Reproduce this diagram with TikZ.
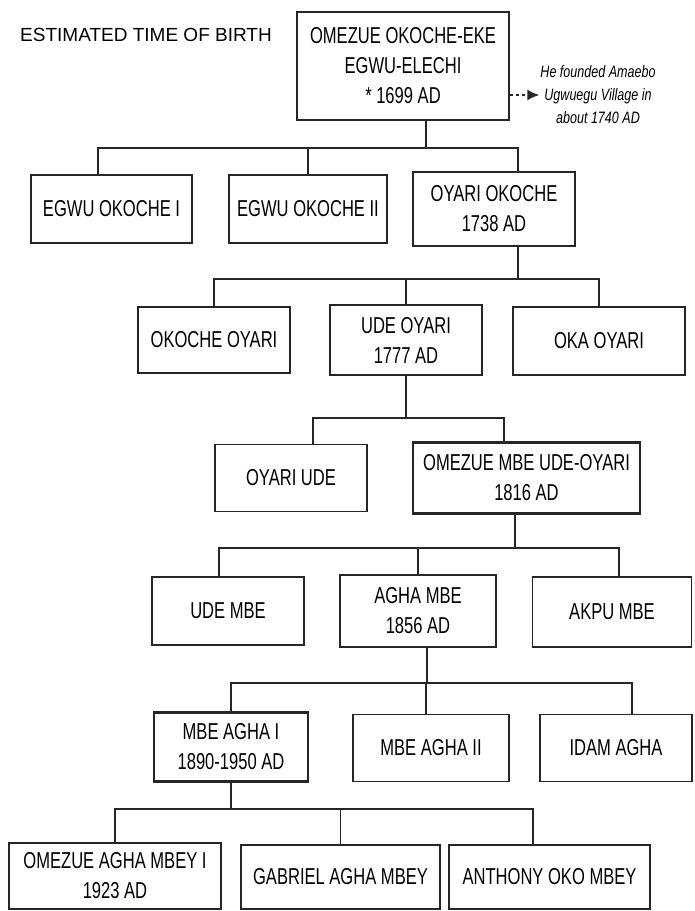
\documentclass[tikz, border=0pt]{standalone}
\usepackage{fontspec}
\setmainfont{Liberation Sans}
\newfontfamily\boxfont{Liberation Sans}[FakeStretch = 0.72]
\newfontfamily\notefont{Liberation Sans}[FakeStretch = 0.76]
\usetikzlibrary{arrows.meta}

\begin{document}
\begin{tikzpicture}[x = 1pt, y = -1pt,
    person/.style = {draw = black!85, line width = 1.4pt, align = center,
      inner sep = 0pt, font = \boxfont\fontsize{23}{30}\selectfont},
    heir/.style = {person, line width = 2.4pt},
    link/.style = {draw = black!85, line width = 1.6pt},
    heirlink/.style = {link, line width = 2.2pt}]
  \fill[white] (0, 0) rectangle (695, 911);
  \useasboundingbox (0, 0) rectangle (695, 911);

  \node[font = \fontsize{19}{22}\selectfont] (title) at (146, 35)
    {ESTIMATED TIME OF BIRTH};
  \node[heir, minimum width = 212, minimum height = 108] (root) at (403, 66)
    {OMEZUE OKOCHE-EKE\\EGWU-ELECHI\\* 1699 AD};
  \node[align = center, inner sep = 1pt,
    font = \notefont\itshape\fontsize{16.5}{23}\selectfont]
    (note) at (598, 95) {He founded Amaebo\\Ugwuegu Village in\\about 1740 AD};
  \draw[link, dashed, -{Latex[length = 12pt, width = 11pt]}]
    (root.east |- note) -- (note.west);

  \node[person, minimum width = 161, minimum height = 68] (egwuA) at (111.5, 209)
    {EGWU OKOCHE I};
  \node[person, minimum width = 158, minimum height = 68] (egwuB) at (308, 209)
    {EGWU OKOCHE II};
  \node[heir, minimum width = 162, minimum height = 74] (oyariO) at (494, 209)
    {OYARI OKOCHE\\1738 AD};

  \node[person, minimum width = 152, minimum height = 66] (okocheO) at (214, 340)
    {OKOCHE OYARI};
  \node[heir, minimum width = 152, minimum height = 70] (udeO) at (406, 340)
    {UDE OYARI\\1777 AD};
  \node[person, minimum width = 172, minimum height = 68] (okaO) at (599, 341)
    {OKA OYARI};

  \node[person, minimum width = 152, minimum height = 67] (oyariU) at (291, 478)
    {OYARI UDE};
  \node[heir, minimum width = 227, minimum height = 71] (omezueM) at (526.5, 478)
    {OMEZUE MBE UDE-OYARI\\1816 AD};

  \node[person, minimum width = 152, minimum height = 68] (udeM) at (228, 611)
    {UDE MBE};
  \node[heir, minimum width = 156, minimum height = 72] (aghaM) at (418, 611)
    {AGHA MBE\\1856 AD};
  \node[person, minimum width = 159, minimum height = 70] (akpuM) at (612, 612)
    {AKPU MBE};

  \node[heir, minimum width = 154, minimum height = 69] (mbeA1) at (231, 747)
    {MBE AGHA I\\1890-1950 AD};
  \node[person, minimum width = 156, minimum height = 67] (mbeA2) at (431, 748)
    {MBE AGHA II};
  \node[person, minimum width = 152, minimum height = 67] (idamA) at (616, 748)
    {IDAM AGHA};

  \node[heir, minimum width = 212, minimum height = 66] (omezueA) at (115, 876)
    {OMEZUE AGHA MBEY I\\1923 AD};
  \node[person, minimum width = 199, minimum height = 64] (gabriel) at (340.5, 877)
    {GABRIEL AGHA MBEY};
  \node[person, minimum width = 201, minimum height = 64] (anthony) at (549.5, 877)
    {ANTHONY OKO MBEY};

  \draw[heirlink] ([xshift = 23]root.south) -- ++(0, 27) coordinate (fork1);
  \draw[link] ([xshift = -13.5]egwuA.north) |- (fork1)
    -| ([xshift = 24]oyariO.north);
  \draw[link] (egwuB.north) -- (egwuB.north |- fork1);

  \draw[heirlink] ([xshift = 24]oyariO.south) -- ++(0, 32) coordinate (fork2);
  \draw[link] (okocheO.north) |- (fork2) -| (okaO.north);
  \draw[link] (udeO.north) -- (udeO.north |- fork2);

  \draw[heirlink] (udeO.south) -- ++(0, 42) coordinate (fork3);
  \draw[link] ([xshift = 22]oyariU.north) |- (fork3)
    -| ([xshift = -22.5]omezueM.north);

  \draw[heirlink] ([xshift = -11.5]omezueM.south) -- ++(0, 33) coordinate (fork4);
  \draw[link] ([xshift = -9]udeM.north) |- (fork4) -| ([xshift = 7]akpuM.north);
  \draw[link] (aghaM.north) -- (aghaM.north |- fork4);

  \draw[heirlink] ([xshift = 9]aghaM.south) -- ++(0, 35) coordinate (fork5);
  \draw[link] (mbeA1.north) |- (fork5) -| ([xshift = 16]idamA.north);
  \draw[link] ([xshift = -5]mbeA2.north) -- ([xshift = -5]mbeA2.north |- fork5);

  \draw[heirlink] (mbeA1.south) -- ++(0, 26) coordinate (fork6);
  \draw[link] (omezueA.north) |- (fork6) -| ([xshift = -16.5]anthony.north);
  \draw[link] (gabriel.north) -- (gabriel.north |- fork6);
\end{tikzpicture}
\end{document}
